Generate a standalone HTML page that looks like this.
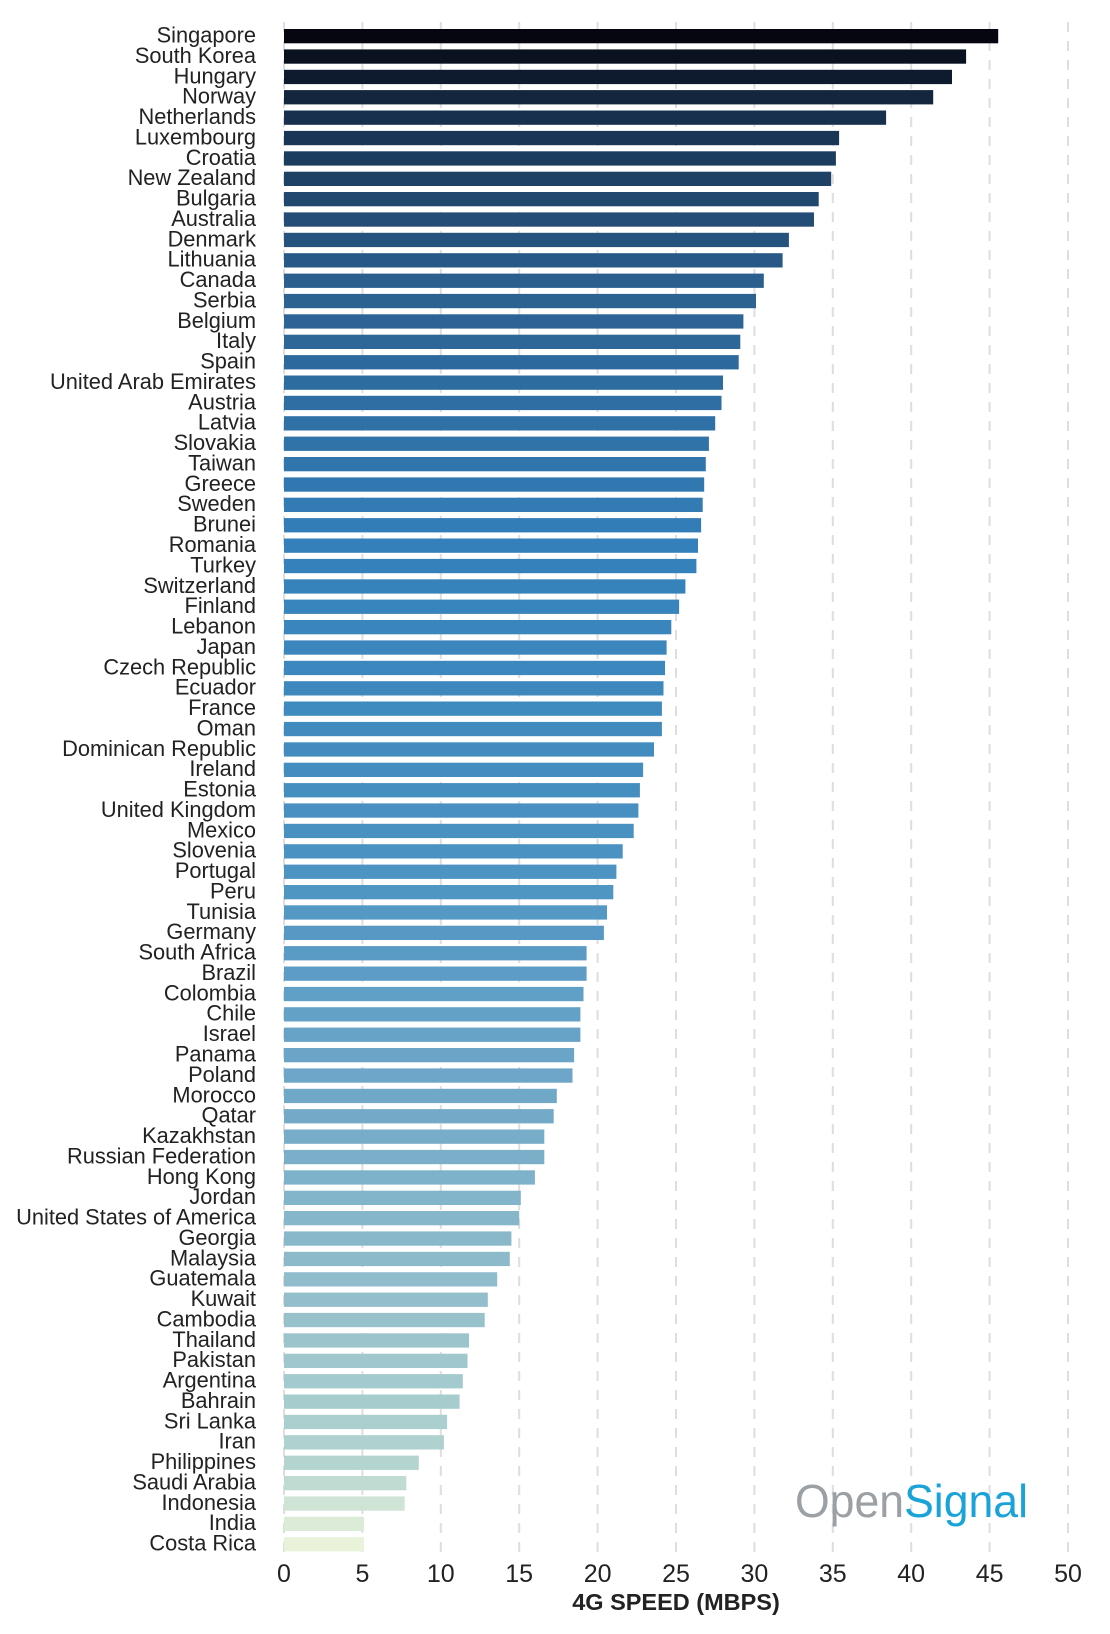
<!DOCTYPE html>
<html><head><meta charset="utf-8">
<style>
html,body{margin:0;padding:0;background:#fff;}
svg{display:block;}
text{font-family:"Liberation Sans",Arial,sans-serif;}
</style></head>
<body>
<svg id="c" width="1110" height="1634" viewBox="0 0 1110 1634" xmlns="http://www.w3.org/2000/svg">
<g id="grid" stroke="#dedede" stroke-width="2" stroke-dasharray="10,9"></g>
<g id="bars"></g>
<g id="labels" font-size="21.8" fill="#222" text-anchor="end">
<text x="256" y="42">Singapore</text>
<text x="256" y="62">South Korea</text>
<text x="256" y="82">Hungary</text>
<text x="256" y="102">Norway</text>
<text x="256" y="122">Netherlands</text>
<text x="256" y="143">Luxembourg</text>
<text x="256" y="163">Croatia</text>
<text x="256" y="183">New Zealand</text>
<text x="256" y="203">Bulgaria</text>
<text x="256" y="223">Australia</text>
<text x="256" y="243">Denmark</text>
<text x="256" y="263">Lithuania</text>
<text x="256" y="283">Canada</text>
<text x="256" y="303">Serbia</text>
<text x="256" y="323">Belgium</text>
<text x="256" y="344">Italy</text>
<text x="256" y="364">Spain</text>
<text x="256" y="384">United Arab Emirates</text>
<text x="256" y="404">Austria</text>
<text x="256" y="424">Latvia</text>
<text x="256" y="444">Slovakia</text>
<text x="256" y="464">Taiwan</text>
<text x="256" y="484">Greece</text>
<text x="256" y="504">Sweden</text>
<text x="256" y="525">Brunei</text>
<text x="256" y="545">Romania</text>
<text x="256" y="565">Turkey</text>
<text x="256" y="585">Switzerland</text>
<text x="256" y="605">Finland</text>
<text x="256" y="625">Lebanon</text>
<text x="256" y="645">Japan</text>
<text x="256" y="665">Czech Republic</text>
<text x="256" y="685">Ecuador</text>
<text x="256" y="705">France</text>
<text x="256" y="726">Oman</text>
<text x="256" y="746">Dominican Republic</text>
<text x="256" y="766">Ireland</text>
<text x="256" y="786">Estonia</text>
<text x="256" y="806">United Kingdom</text>
<text x="256" y="826">Mexico</text>
<text x="256" y="846">Slovenia</text>
<text x="256" y="866">Portugal</text>
<text x="256" y="886">Peru</text>
<text x="256" y="906">Tunisia</text>
<text x="256" y="927">Germany</text>
<text x="256" y="947">South Africa</text>
<text x="256" y="967">Brazil</text>
<text x="256" y="987">Colombia</text>
<text x="256" y="1007">Chile</text>
<text x="256" y="1027">Israel</text>
<text x="256" y="1047">Panama</text>
<text x="256" y="1067">Poland</text>
<text x="256" y="1087">Morocco</text>
<text x="256" y="1108">Qatar</text>
<text x="256" y="1128">Kazakhstan</text>
<text x="256" y="1148">Russian Federation</text>
<text x="256" y="1168">Hong Kong</text>
<text x="256" y="1188">Jordan</text>
<text x="256" y="1208">United States of America</text>
<text x="256" y="1228">Georgia</text>
<text x="256" y="1248">Malaysia</text>
<text x="256" y="1268">Guatemala</text>
<text x="256" y="1289">Kuwait</text>
<text x="256" y="1309">Cambodia</text>
<text x="256" y="1329">Thailand</text>
<text x="256" y="1349">Pakistan</text>
<text x="256" y="1369">Argentina</text>
<text x="256" y="1389">Bahrain</text>
<text x="256" y="1409">Sri Lanka</text>
<text x="256" y="1429">Iran</text>
<text x="256" y="1449">Philippines</text>
<text x="256" y="1469">Saudi Arabia</text>
<text x="256" y="1490">Indonesia</text>
<text x="256" y="1510">India</text>
<text x="256" y="1530">Costa Rica</text>
</g>
<g font-size="25" fill="#222" text-anchor="middle">
<text x="284" y="1582">0</text>
<text x="362.4" y="1582">5</text>
<text x="440.8" y="1582">10</text>
<text x="519.2" y="1582">15</text>
<text x="597.6" y="1582">20</text>
<text x="676" y="1582">25</text>
<text x="754.4" y="1582">30</text>
<text x="832.8" y="1582">35</text>
<text x="911.2" y="1582">40</text>
<text x="989.6" y="1582">45</text>
<text x="1068" y="1582">50</text>
</g>
<text x="676" y="1610" font-size="23.5" font-weight="bold" fill="#222" text-anchor="middle">4G SPEED (MBPS)</text>
<text x="795" y="1517" font-size="46" textLength="233" lengthAdjust="spacingAndGlyphs"><tspan fill="#9aa0a4">Open</tspan><tspan fill="#1aa3d9">Signal</tspan></text>
</svg>
<script>
var vals=[45.55,43.5,42.6,41.4,38.4,35.4,35.2,34.9,34.1,33.8,32.2,31.8,30.6,30.1,29.3,29.1,29.0,28.0,27.9,27.5,27.1,26.9,26.8,26.7,26.6,26.4,26.3,25.6,25.2,24.7,24.4,24.3,24.2,24.1,24.1,23.6,22.9,22.7,22.6,22.3,21.6,21.2,21.0,20.6,20.4,19.3,19.3,19.1,18.9,18.9,18.5,18.4,17.4,17.2,16.6,16.6,16.0,15.1,15.0,14.5,14.4,13.6,13.0,12.8,11.8,11.7,11.4,11.2,10.4,10.2,8.6,7.8,7.7,5.1,5.1];
var P=20.38;
var stops=[[0,[5,6,15]],[4,[23,48,78]],[12,[42,95,142]],[25,[51,128,186]],[40,[74,146,194]],[52,[112,168,200]],[62,[147,191,204]],[70,[179,212,207]],[74,[232,243,218]]];
function col(i){for(var k=0;k<stops.length-1;k++){var a=stops[k],b=stops[k+1];if(i>=a[0]&&i<=b[0]){var t=(i-a[0])/(b[0]-a[0]);var c=a[1].map(function(v,j){return Math.round(v+(b[1][j]-v)*t);});return 'rgb('+c.join(',')+')';}}return 'rgb(232,243,218)';}
var ns="http://www.w3.org/2000/svg",g=document.getElementById('bars'),gr=document.getElementById('grid');
for(var k=0;k<=10;k++){var l=document.createElementNS(ns,'line');var x=284+k*78.4;l.setAttribute('x1',x);l.setAttribute('x2',x);l.setAttribute('y1',22);l.setAttribute('y2',1556);gr.appendChild(l);}
for(var i=0;i<vals.length;i++){var r=document.createElementNS(ns,'rect');r.setAttribute('x',284);r.setAttribute('y',(29+i*P).toFixed(1));r.setAttribute('width',(vals[i]*15.68).toFixed(1));r.setAttribute('height',14.3);r.setAttribute('fill',col(i));g.appendChild(r);}
var ts=document.getElementById('labels').getElementsByTagName('text');
for(var j=0;j<ts.length;j++){ts[j].setAttribute('y',(29+j*P+13.5).toFixed(1));}
</script>
</body></html>
